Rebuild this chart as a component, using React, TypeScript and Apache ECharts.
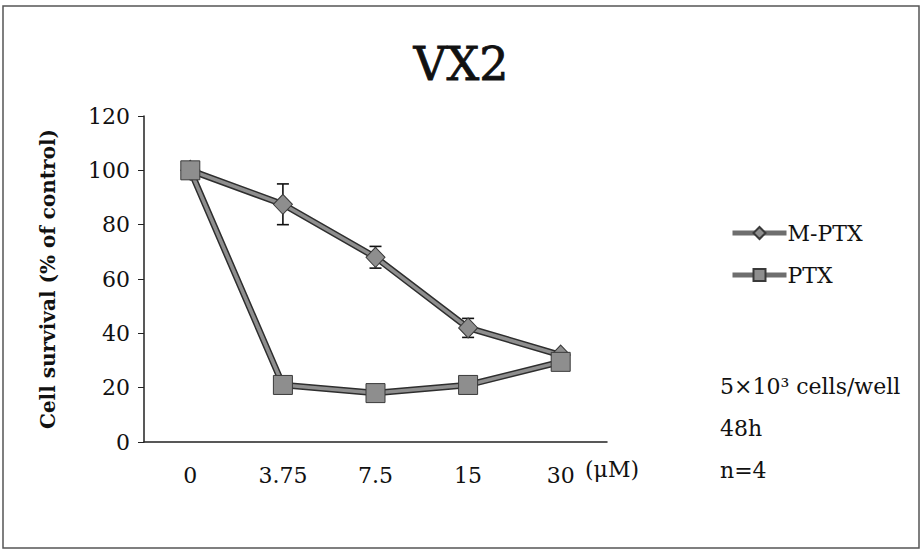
import React, { useEffect, useRef } from "react";
import * as echarts from "echarts";

const categories = ["0", "3.75", "7.5", "15", "30"];
const mptxValues = [100, 87.5, 68, 42, 32];
const mptxErrors = [0, 7.5, 4, 3.5, 0];
const ptxValues = [100, 21, 18, 21, 29.5];
const yTicks = { min: 0, max: 120, interval: 20 };
const notes = ["5×10³ cells/well", "48h", "n=4"];

const FONT = "DejaVu Serif";

export default function App() {
  const ref = useRef<HTMLDivElement>(null);
  useEffect(() => {
    document.body.style.margin = "0";
    const chart = echarts.init(ref.current!, null, { renderer: "svg" });
    const errData = mptxValues.map((v, i) => [i, v - mptxErrors[i], v + mptxErrors[i]]).filter((_, i) => mptxErrors[i] > 0);
    chart.setOption({
      animation: false,
      backgroundColor: "#fff",
      title: {
        text: "VX2",
        left: "center",
        top: 36,
        textStyle: {
          fontFamily: FONT,
          fontSize: 46,
          fontWeight: "normal",
          color: "#111",
          textBorderColor: "#111",
          textBorderWidth: 0.8,
        },
      },
      grid: { left: 144, right: 315, top: 116, bottom: 110 },
      legend: {
        orient: "vertical",
        left: 725,
        top: 217,
        itemWidth: 54,
        itemHeight: 15,
        itemGap: 20,
        data: ["M-PTX", "PTX"],
        lineStyle: { width: 5, color: "#6e6e6e" },
        textStyle: { fontFamily: FONT, fontSize: 22, color: "#111", padding: [0, 0, 0, -4] },
      },
      xAxis: {
        type: "category",
        data: categories,
        boundaryGap: true,
        axisLine: { lineStyle: { color: "#222", width: 1.5 } },
        axisTick: { show: false },
        axisLabel: { fontFamily: FONT, fontSize: 22, color: "#111", margin: 22 },
      },
      yAxis: {
        type: "value",
        min: yTicks.min,
        max: yTicks.max,
        interval: yTicks.interval,
        name: "Cell survival (% of control)",
        nameLocation: "middle",
        nameGap: 86,
        nameTextStyle: { fontFamily: FONT, fontSize: 20, fontWeight: "bold", color: "#111" },
        splitLine: { show: false },
        axisLine: { show: true, lineStyle: { color: "#222", width: 1.5 } },
        axisTick: { show: true, length: 6, lineStyle: { color: "#222" } },
        axisLabel: { fontFamily: FONT, fontSize: 22, color: "#111", margin: 14 },
      },
      series: [
        {
          name: "M-PTX-outline",
          type: "line",
          data: mptxValues,
          symbol: "none",
          silent: true,
          lineStyle: { color: "#2e2e2e", width: 6.5 },
        },
        {
          name: "M-PTX",
          type: "line",
          data: mptxValues,
          symbol: "diamond",
          symbolSize: [19, 20],
          lineStyle: { color: "#8e8e8e", width: 3.5 },
          itemStyle: { color: "#8e8e8e", borderColor: "#3a3a3a", borderWidth: 1 },
        },
        {
          name: "err",
          type: "custom",
          data: errData,
          encode: { x: 0, y: [1, 2] },
          renderItem: (params: any, api: any) => {
            const lo = api.coord([api.value(0), api.value(1)]);
            const hi = api.coord([api.value(0), api.value(2)]);
            const w = 6;
            const st = { stroke: "#111", lineWidth: 1.6 };
            return {
              type: "group",
              children: [
                { type: "line", shape: { x1: lo[0], y1: lo[1], x2: hi[0], y2: hi[1] }, style: st },
                { type: "line", shape: { x1: lo[0] - w, y1: lo[1], x2: lo[0] + w, y2: lo[1] }, style: st },
                { type: "line", shape: { x1: hi[0] - w, y1: hi[1], x2: hi[0] + w, y2: hi[1] }, style: st },
              ],
            };
          },
          z: 1,
        },
        {
          name: "PTX-outline",
          type: "line",
          data: ptxValues,
          symbol: "none",
          silent: true,
          lineStyle: { color: "#2e2e2e", width: 6.5 },
          z: 3,
        },
        {
          name: "PTX",
          type: "line",
          data: ptxValues,
          symbol: "rect",
          symbolSize: 19,
          lineStyle: { color: "#8e8e8e", width: 3.5 },
          itemStyle: { color: "#8e8e8e", borderColor: "#3a3a3a", borderWidth: 1 },
          z: 3,
        },
      ],
      graphic: [
        {
          type: "rect",
          shape: { x: 3, y: 6, width: 916, height: 542 },
          style: { fill: "none", stroke: "#555", lineWidth: 1.5 },
          silent: true,
        },
        {
          type: "text",
          left: 585,
          top: 458,
          style: { text: "(μM)", font: `22px "${FONT}"`, fill: "#111" },
        },
        ...notes.map((t, i) => ({
          type: "text",
          left: 720,
          top: 375 + i * 42,
          style: { text: t, font: `22px "${FONT}"`, fill: "#111" },
        })),
      ],
    });
    return () => chart.dispose();
  }, []);
  return <div ref={ref} style={{ width: 922, height: 552 }} />;
}
